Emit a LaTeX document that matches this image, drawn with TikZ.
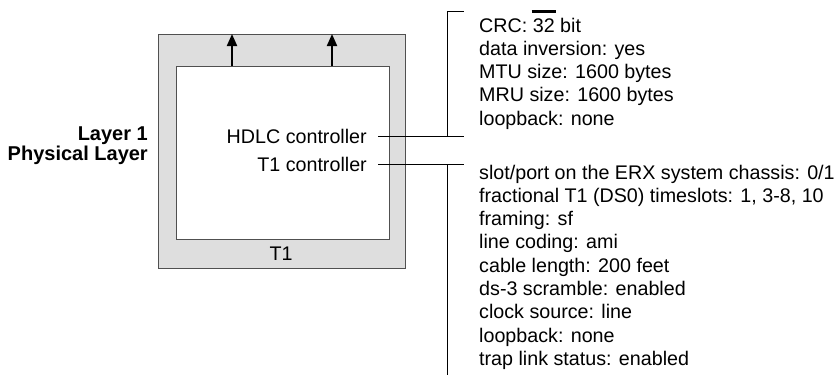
\documentclass[tikz,border=0pt]{standalone}
\usepackage{fontspec}
\setmainfont{Liberation Sans}
\usetikzlibrary{arrows.meta}
\definecolor{band}{HTML}{DEDEDE}
\definecolor{edge}{HTML}{505050}
% bar drawn over a short piece of text
\newcommand\barover[1]{\setbox0=\hbox{#1}\rlap{\kern-0.06\wd0\vrule width 1.12\wd0 height 22pt depth -19pt}\box0{}}
\begin{document}
\begin{tikzpicture}[x=1pt,y=-1pt,
  every node/.style={inner sep=0pt, font=\fontsize{19.7}{23.3}\selectfont},
  lbl/.style={anchor=base west},
  ctl/.style={anchor=base east},
  layerlbl/.style={anchor=base east, font=\fontsize{20}{23.5}\selectfont\bfseries},
  wire/.style={line width=1pt, black},
  upar/.style={line width=2pt, -{Triangle[length=12pt,width=10pt]}},
  frame/.style={draw=edge, line width=1.2pt, anchor=north west}]
\useasboundingbox (0,0) rectangle (837,376);

% interface frame
\node[frame, fill=band, minimum width=247, minimum height=234] (outer) at (158,34) {};
\node[frame, fill=white, minimum width=213, minimum height=173] (inner) at (176,66) {};

\coordinate (a1) at (232,0);
\coordinate (a2) at (332,0);
\draw[upar] (inner.north -| a1) -- (outer.north -| a1);
\draw[upar] (inner.north -| a2) -- (outer.north -| a2);

% labels inside the frame
\node[ctl] (hdlc) at (367,143) {HDLC controller};
\node[ctl] (t1c) at (367,171) {T1 controller};
\node[anchor=base] (t1) at (281,260) {T1};

% layer name
\node[layerlbl] (lay1) at (148,140) {Layer 1};
\node[layerlbl] (phys) at (148,160) {Physical Layer};

% HDLC settings
\foreach \s [count=\i] in {CRC: \barover{32} bit, data inversion: yes, MTU size: 1600 bytes, MRU size: 1600 bytes, loopback: none}
  \node[lbl] (h\i) at (479,{32+23.3*(\i-1)}) {\s};

% T1 settings
\foreach \s [count=\i] in {slot/port on the ERX system chassis: 0/1, {fractional T1 (DS0) timeslots: 1, 3-8, 10}, framing: sf, line coding: ami, cable length: 200 feet, ds-3 scramble: enabled, clock source: line, loopback: none, trap link status: enabled}
  \node[lbl] (t\i) at (479,{179+23.3*(\i-1)}) {\s};

% brackets tying the settings to the controllers
\coordinate (hend) at (464,136);
\coordinate (tend) at (464,164);
\coordinate (topL) at (447,11);
\coordinate (topR) at (464,11);
\coordinate (botL) at (447,375);
\draw[wire, shorten <=11pt] (hdlc.east |- hend) -- (hend);
\draw[wire] (hend -| topL) -- (topL) -- (topR);
\draw[wire, shorten <=11pt] (t1c.east |- tend) -- (tend);
\draw[wire] (tend -| botL) -- (botL);
\end{tikzpicture}
\end{document}
